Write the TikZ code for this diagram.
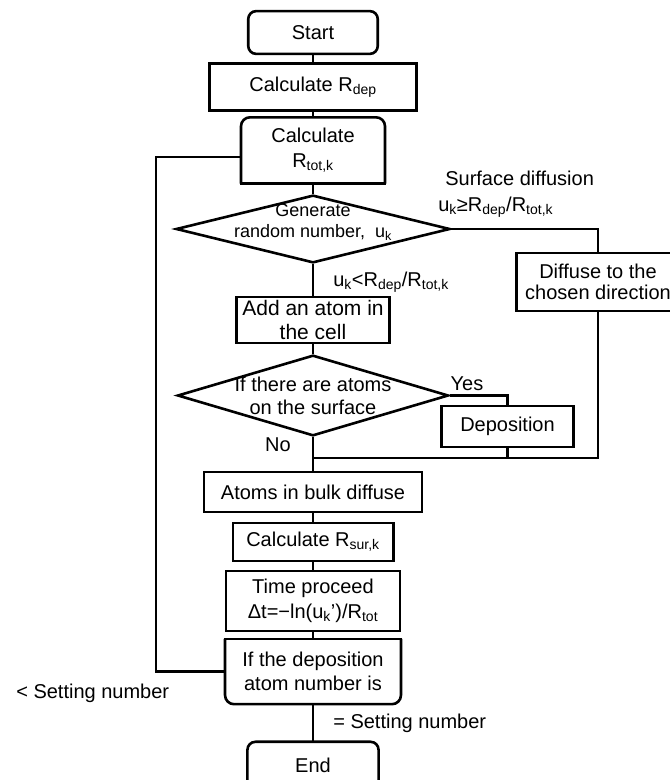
\documentclass[tikz,border=0pt]{standalone}
\usepackage{fontspec}
\setmainfont{Liberation Sans}
\usetikzlibrary{shapes.geometric}
\newcommand{\sub}[1]{\textsubscript{#1}}
\newcommand{\fsz}[2]{\fontsize{#1bp}{#2bp}\selectfont}
\begin{document}
\begin{tikzpicture}[x=1bp, y=-1bp, line width=2.6bp,
    every node/.style={font=\fsz{20}{24}, inner sep=0pt, align=center},
    box/.style={draw, rectangle},
    roundbox/.style={draw, rectangle, rounded corners=8bp},
    bare/.style={rectangle},
    decision/.style={draw, diamond}]
    \useasboundingbox (0,0) rectangle (670,780);

    % Main column
    \node[roundbox, minimum width=130, minimum height=43] (start) at (313,32.5) {Start};
    \node[box, minimum width=208, minimum height=47] (rdep) at (313,87) {Calculate R\sub{dep}};
    \node[bare, minimum width=142, minimum height=64, font=\fsz{20}{25}] (rtot) at (313,150.5) {Calculate\\R\sub{tot,k}};
    \node[decision, minimum width=275, minimum height=68] (gen) at (313,229) {};
    \node[font=\fsz{18}{21}] (gentext) at (313,222) {Generate\\random number,\ \ u\sub{k}};
    \node[box, minimum width=153, minimum height=46, font=\fsz{21}{24}] (add) at (313,320) {Add an atom in\\the cell};
    \node[decision, minimum width=272, minimum height=81] (surf) at (313,395.5) {};
    \node[font=\fsz{20}{23}] (surftext) at (313,396) {If there are atoms\\on the surface};
    \node[box, minimum width=219, minimum height=40] (atoms) at (313,492) {Atoms in bulk diffuse};
    \node[box, minimum width=161, minimum height=38] (rsur) at (313,542) {Calculate R\sub{sur,k}};
    \node[box, minimum width=175, minimum height=60, font=\fsz{20}{25}] (time) at (313,601) {Time proceed\\Δt=−ln(u\sub{k}’)/R\sub{tot}};
    \node[bare, minimum width=174, minimum height=63] (ifdep) at (313,671.5) {If the deposition\\atom number is};
    \node[bare, minimum width=129, minimum height=44] (stop) at (313,765) {End};

    % Side boxes
    \node[box, minimum width=164, minimum height=58, font=\fsz{20}{21}] (diffuse) at (598,282) {Diffuse to the\\chosen direction};
    \node[box, minimum width=132, minimum height=41] (dep) at (507.5,426.5) {Deposition};

    % Partly rounded boxes
    \draw[rounded corners=9bp] (rtot.south west) -- (rtot.north west) -- (rtot.north east) -- (rtot.south east);
    \draw[line cap=rect] (rtot.south west) -- (rtot.south east);
    \draw[rounded corners=9bp] (ifdep.north west) -- (ifdep.south west) -- (ifdep.south east) -- (ifdep.north east);
    \draw[line cap=rect] (ifdep.north west) -- (ifdep.north east);
    \coordinate (bottom) at (313,780);
    \draw[rounded corners=8bp] (stop.west |- bottom) -- (stop.north west) -- (stop.north east) -- (stop.east |- bottom);

    % Connectors
    \draw (start) -- (rdep) -- (rtot) -- (gen) -- (add) -- (surf) -- (atoms) -- (rsur) -- (time) -- (ifdep) -- (stop);
    \draw (gen.east) -| (diffuse.north);
    \draw (surf.east) -| (dep.north);
    \coordinate (merge) at (313,458);
    \draw (diffuse.south) |- (merge);
    \draw (dep.south) -- (dep.south |- merge);
    \coordinate (loop) at (156,157);
    \draw (ifdep.west) -| (loop) -- (loop -| rtot.west);

    % Labels
    \node[anchor=west, align=left, fill=white, font=\fsz{20}{26}] (sdlab) at (437,194) {\hspace*{7bp}Surface diffusion\\u\sub{k}≥R\sub{dep}/R\sub{tot,k}};
    \node[anchor=west] (ltlab) at (332,282) {u\sub{k}<R\sub{dep}/R\sub{tot,k}};
    \node (yes) at (467,384) {Yes};
    \node (no) at (278,445) {No};
    \node[anchor=west] (lesslab) at (15,693) {< Setting number};
    \node[anchor=west] (eqlab) at (332,723) {= Setting number};
\end{tikzpicture}
\end{document}
